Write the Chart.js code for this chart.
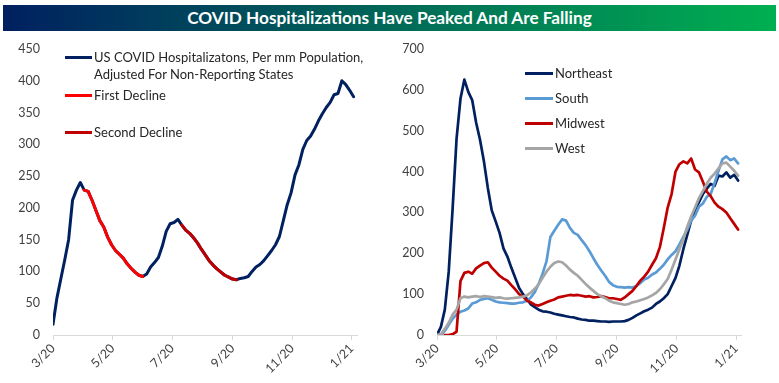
<!DOCTYPE html>
<html><head><meta charset="utf-8">
<script src="https://cdn.jsdelivr.net/npm/chart.js@4.4.1/dist/chart.umd.min.js"></script>
<style>
html,body{margin:0;padding:0;background:#fff;}
body{width:779px;height:383px;position:relative;overflow:hidden;font-family:Lato,'Liberation Sans',sans-serif;}
#title{position:absolute;left:3px;top:5px;width:773px;height:26px;background:linear-gradient(to right,#002060,#00b050);color:#fff;font-weight:bold;font-size:17.2px;line-height:26px;text-align:center;}
#c1{position:absolute;left:0;top:0;}
#c2{position:absolute;left:390px;top:0;}
.lg{position:absolute;font-size:13px;color:#262626;white-space:nowrap;line-height:17px;}
.sw{position:absolute;height:3px;}
</style></head>
<body>
<div id="title">COVID Hospitalizations Have Peaked And Are Falling</div>
<canvas id="c1" width="390" height="383"></canvas>
<canvas id="c2" width="389" height="383"></canvas>
<div id="legends"></div>
<script>
// x positions: days since 3/1/20
const tickDays = [0, 61, 122, 184, 245, 306];
const tickLabels = ['3/20', '5/20', '7/20', '9/20', '11/20', '1/21'];
const days = [0,4,8,12,16,20,24,28,32,36,40,44,48,52,56,60,64,68,72,76,
  80,84,88,92,96,100,104,108,112,116,120,124,128,132,136,140,144,148,152,156,
  160,164,168,172,176,180,184,188,192,196,200,204,208,212,216,220,224,228,232,236,
  240,244,248,252,256,260,264,268,272,276,280,284,288,292,296,300,304,308];

// Left chart: US hospitalizations per mm population
const usHosp = [17,58,88,118,150,212,228,240,228,226,212,196,180,170,154,142,133,127,121,112,
  105,99,94,92,96,107,114,122,140,163,175,177,182,173,165,160,153,145,135,126,
  117,110,104,99,94,91,88,87,89,90,92,100,107,111,117,125,133,142,155,180,
  205,224,252,268,292,306,313,324,337,348,358,366,378,380,400,394,385,375];
const firstDecline = [8, 23];   // index range
const secondDecline = [33, 47]; // index range

// Right chart: regions
const northeast = [0,20,62,155,310,480,578,625,595,575,520,478,425,360,305,278,250,212,192,165,
  140,115,100,88,75,68,62,58,57,55,52,50,48,46,44,43,40,38,37,35,
  35,34,33,33,32,33,33,33,34,37,42,48,53,58,62,67,76,82,90,100,
  120,140,170,210,245,280,306,325,345,358,370,365,390,388,398,385,392,378];
const south = [0,0,10,25,40,50,57,60,65,77,80,86,88,90,86,82,80,79,78,77,
  77,79,80,84,92,105,125,150,180,240,255,270,283,280,262,250,245,232,220,205,
  188,172,158,145,130,122,118,117,116,117,116,120,127,136,140,148,153,162,172,185,
  196,205,222,240,258,280,292,314,322,338,345,372,402,430,437,428,432,420];
const midwest = [null,null,0,0,2,8,132,152,155,150,163,170,176,178,165,155,145,138,133,122,
  112,100,94,84,80,74,72,76,80,84,87,92,94,96,98,97,98,96,94,95,
  92,93,95,93,90,90,88,86,92,100,108,120,133,143,155,172,188,215,262,312,
  345,400,418,425,420,432,405,398,375,351,340,324,314,308,300,286,272,258];
const west = [0,2,15,30,50,62,90,94,92,94,95,93,95,94,93,91,92,90,89,90,
  91,92,94,97,104,113,124,140,155,167,176,180,178,170,160,152,145,135,125,116,
  108,100,95,90,84,80,78,76,74,76,80,82,85,88,92,97,103,112,124,137,
  160,185,210,235,265,290,312,335,352,370,385,395,408,420,422,412,402,390];

const C_NAVY = '#002060', C_RED = '#FF0000', C_DRED = '#C00000', C_LBLUE = '#5B9BD5', C_GRAY = '#A5A5A5';
const TXT = '#404040';
const FONT = {family: 'Lato, "Liberation Sans", sans-serif', size: 12.5};

function pts(vals) { return days.map((d, i) => ({x: d, y: vals[i]})); }
function rangeOf(vals, r) { return vals.map((v, i) => (i >= r[0] && i <= r[1]) ? v : null); }

function opts(ymax, ystep, yWidth, padRight, xmax) {
  return {
    responsive: false, animation: false, events: [],
    layout: {padding: {top: 49, right: padRight, bottom: 0, left: 0}},
    plugins: {legend: {display: false}, tooltip: {enabled: false}},
    elements: {point: {radius: 0}, line: {tension: 0, borderJoinStyle: 'round', borderCapStyle: 'round'}},
    scales: {
      x: {
        type: 'linear', min: 0, max: xmax,
        afterBuildTicks: s => { s.ticks = tickDays.map(v => ({value: v})); },
        afterFit: s => { s.height = 48; },
        ticks: {autoSkip: false, maxRotation: 45, minRotation: 45, padding: 1, color: TXT, font: FONT,
          callback: v => tickLabels[tickDays.indexOf(v)]},
        grid: {drawOnChartArea: false, drawTicks: true, tickLength: 5, color: '#D9D9D9'},
        border: {display: true, color: '#D9D9D9', width: 1}
      },
      y: {
        min: 0, max: ymax,
        afterFit: s => { s.width = yWidth; },
        ticks: {stepSize: ystep, padding: 13, color: TXT, font: FONT},
        grid: {display: false, drawTicks: false},
        border: {display: false}
      }
    }
  };
}

new Chart(document.getElementById('c1'), {
  type: 'line',
  data: {datasets: [
    {label: 'US COVID Hospitalizatons, Per mm Population, Adjusted For Non-Reporting States', data: pts(usHosp), borderColor: C_NAVY, borderWidth: 3, order: 3},
    {label: 'First Decline', data: pts(rangeOf(usHosp, firstDecline)), borderColor: C_RED, borderWidth: 3, order: 1},
    {label: 'Second Decline', data: pts(rangeOf(usHosp, secondDecline)), borderColor: C_DRED, borderWidth: 3, order: 2}
  ]},
  options: opts(450, 50, 53, 33, 311.5)
});

new Chart(document.getElementById('c2'), {
  type: 'line',
  data: {datasets: [
    {label: 'Northeast', data: pts(northeast), borderColor: C_NAVY, borderWidth: 2.7, order: 4},
    {label: 'South', data: pts(south), borderColor: C_LBLUE, borderWidth: 2.7, order: 3},
    {label: 'Midwest', data: pts(midwest), borderColor: C_DRED, borderWidth: 2.7, order: 2},
    {label: 'West', data: pts(west), borderColor: C_GRAY, borderWidth: 2.7, order: 1}
  ]},
  options: opts(700, 100, 47, 38, 311)
});

// Custom legends (HTML text)
const legendItems = [
  {x: 65, w: 27, tx: 94, y: 57.3, color: C_NAVY, lines: ['US COVID Hospitalizatons, Per mm Population,', 'Adjusted For Non-Reporting States']},
  {x: 65, w: 27, tx: 94, y: 95.3, color: C_RED, lines: ['First Decline']},
  {x: 65, w: 27, tx: 94, y: 132.5, color: C_DRED, lines: ['Second Decline']},
  {x: 525, w: 28, tx: 555, y: 73.3, color: C_NAVY, lines: ['Northeast']},
  {x: 525, w: 28, tx: 555, y: 98.7, color: C_LBLUE, lines: ['South']},
  {x: 525, w: 28, tx: 555, y: 123.3, color: C_DRED, lines: ['Midwest']},
  {x: 525, w: 28, tx: 555, y: 148.3, color: C_GRAY, lines: ['West']}
];
const lg = document.getElementById('legends');
legendItems.forEach(it => {
  const sw = document.createElement('div');
  sw.className = 'sw';
  sw.style.left = it.x + 'px'; sw.style.width = it.w + 'px';
  sw.style.top = (it.y - 1.5) + 'px'; sw.style.background = it.color;
  lg.appendChild(sw);
  const t = document.createElement('div');
  t.className = 'lg';
  t.style.left = it.tx + 'px'; t.style.top = (it.y - 8.5) + 'px';
  t.innerHTML = it.lines.join('<br>');
  lg.appendChild(t);
});
</script>
</body></html>
